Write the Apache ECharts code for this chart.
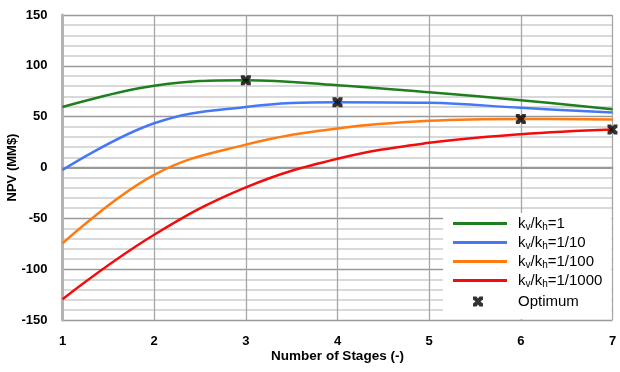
<!DOCTYPE html>
<html>
<head>
<meta charset="utf-8">
<script src="https://cdn.jsdelivr.net/npm/echarts@6/dist/echarts.min.js"></script>
<style>html,body{margin:0;padding:0;background:#fff;}#c{width:620px;height:372px;}</style>
</head>
<body>
<div id="c"></div>
<script>
var stages = [1, 2, 3, 4, 5, 6, 7];
var npvRatio1 = [59.5, 80.3, 85.8, 81, 74, 66.2, 57.4];
var npvRatio10 = [-2.5, 43.5, 59.6, 64.2, 63.6, 58.7, 54];
var npvRatio100 = [-74.6, -7.3, 22.5, 38.4, 45.9, 47.8, 47.2];
var npvRatio1000 = [-129.5, -66.2, -19.5, 8.6, 24.3, 32.8, 37.4];
var optimumStages = [3, 4, 6, 7];
var optimumNpv = [85.8, 64.2, 47.8, 37.4];
var seriesNames = ['kv/kh=1', 'kv/kh=1/10', 'kv/kh=1/100', 'kv/kh=1/1000'];
var legendLabels = {
  'kv/kh=1': '{n|k}{s|v}{n|/k}{s|h}{n|=1}',
  'kv/kh=1/10': '{n|k}{s|v}{n|/k}{s|h}{n|=1/10}',
  'kv/kh=1/100': '{n|k}{s|v}{n|/k}{s|h}{n|=1/100}',
  'kv/kh=1/1000': '{n|k}{s|v}{n|/k}{s|h}{n|=1/1000}',
  'Optimum': '{n|Optimum}'
};
var colors = ['#1f7f1f', '#4577f6', '#ff7a10', '#f20c0c'];
var xMark = 'path://M0,0 L3.5,0 L5,2 L6.5,0 L10,0 L10,3 L7.5,5 L10,7 L10,10 L6.5,10 L5,8 L3.5,10 L0,10 L0,7 L2.5,5 L0,3 Z';

function pairs(xs, ys) { return xs.map(function (x, i) { return [x, ys[i]]; }); }
var allValues = [npvRatio1, npvRatio10, npvRatio100, npvRatio1000];

var FONT = '"Liberation Sans", Arial, sans-serif';
var richText = {
  n: { fontSize: 15, fontFamily: FONT, color: '#000', lineHeight: 18 },
  s: { fontSize: 10, fontFamily: FONT, color: '#000', padding: [7, 0, 0, 0], lineHeight: 12 }
};

var series = seriesNames.map(function (nm, i) {
  return {
    name: nm, type: 'line', data: pairs(stages, allValues[i]),
    smooth: 0.4, showSymbol: false, symbol: 'none',
    lineStyle: { color: colors[i], width: 2.5 }, itemStyle: { color: colors[i] },
    z: 2
  };
});
series.push({
  name: 'Optimum', type: 'scatter', data: pairs(optimumStages, optimumNpv),
  symbol: xMark, symbolSize: 10, itemStyle: { color: '#000' }, z: 5
});

var chart = echarts.init(document.getElementById('c'), null, { renderer: 'canvas' });
chart.setOption({
  animation: false,
  backgroundColor: '#fff',
  grid: { left: 62.5, right: 7.5, top: 15, bottom: 52, containLabel: false, outerBoundsMode: 'none' },
  xAxis: {
    type: 'value', min: 1, max: 7, interval: 1,
    name: 'Number of Stages (-)', nameLocation: 'middle', nameGap: 29, nameMoveOverlap: false,
    nameTextStyle: { fontSize: 13.5, fontWeight: 'bold', fontFamily: FONT, color: '#000' },
    axisLine: { show: true, lineStyle: { color: '#999', width: 2 } },
    axisTick: { show: false },
    axisLabel: { fontSize: 13, fontWeight: 'bold', fontFamily: FONT, color: '#000', margin: 15 },
    splitLine: { show: true, lineStyle: { color: '#a6a6a6', width: 1.3 } }
  },
  yAxis: {
    type: 'value', min: -150, max: 150, interval: 50,
    name: 'NPV (MM$)', nameLocation: 'middle', nameGap: 44, nameMoveOverlap: false,
    nameTextStyle: { fontSize: 13, fontWeight: 'bold', fontFamily: FONT, color: '#000' },
    axisLine: { show: true, onZero: false, lineStyle: { color: '#b3b3b3', width: 3 } },
    axisTick: { show: false },
    axisLabel: { fontSize: 13, fontWeight: 'bold', fontFamily: FONT, color: '#000', margin: 15 },
    splitLine: { show: true, lineStyle: { color: '#999', width: 1.3 } },
    minorTick: { show: false, splitNumber: 5 },
    minorSplitLine: { show: true, lineStyle: { color: '#d9d9d9', width: 2 } }
  },
  graphic: [{
    type: 'rect', z: 3,
    shape: { x: 443, y: 213, width: 168.5, height: 106 },
    style: { fill: '#fff' }
  }],
  legend: [{
    data: seriesNames, orient: 'vertical', left: 448, top: 213,
    icon: 'rect', itemWidth: 54, itemHeight: 3, itemGap: 2,
    padding: [2, 5, 2, 5],
    formatter: function (nm) { return legendLabels[nm]; },
    textStyle: { rich: richText, padding: [0, 0, 0, 6] }
  }, {
    data: ['Optimum'], orient: 'vertical', left: 468, top: 292,
    itemWidth: 54, itemHeight: 10,
    padding: [2, 5, 2, 5],
    formatter: function (nm) { return legendLabels[nm]; },
    textStyle: { rich: richText, padding: [0, 0, 0, 8] }
  }],
  series: series
});
</script>
</body>
</html>
